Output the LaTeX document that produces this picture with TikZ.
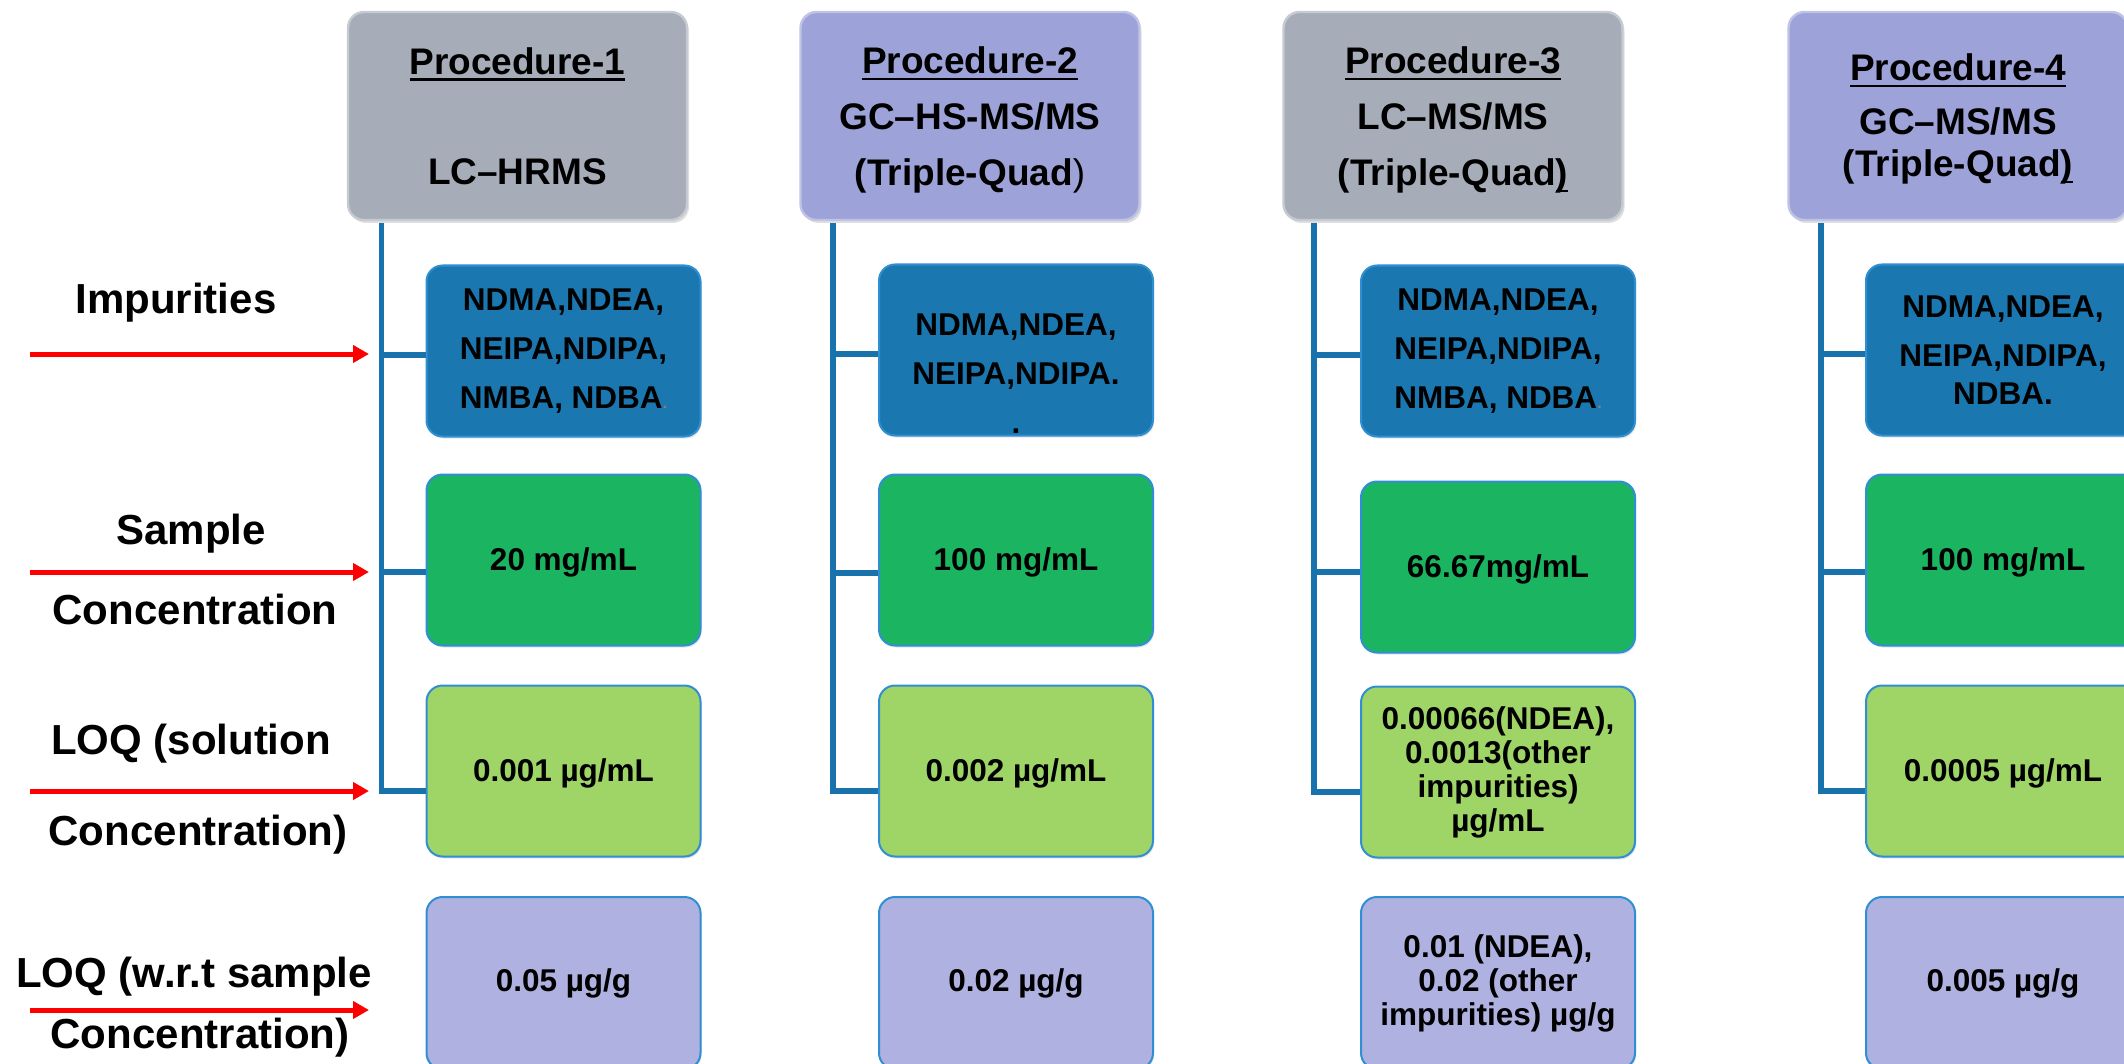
\documentclass[tikz,border=0pt]{standalone}
\usepackage{fontspec}
\setmainfont{Liberation Sans}
\usetikzlibrary{arrows.meta,shadows,calc}
\definecolor{hgray}{HTML}{A7ADB8}
\definecolor{hlav}{HTML}{9DA3D8}
\definecolor{impblue}{HTML}{1B77B0}
\definecolor{samgreen}{HTML}{1BB562}
\definecolor{loqgreen}{HTML}{9FD466}
\definecolor{wrtlav}{HTML}{AFB1E0}
\definecolor{edgeblue}{HTML}{2F8FD2}
\definecolor{connblue}{HTML}{1872AC}
\newcommand{\myul}[1]{\setbox0\hbox{#1}\rlap{\rule[-3.4pt]{\wd0}{1.3pt}}\box0}
\newcommand{\graydot}{{\color{gray}\fontsize{8}{8}\selectfont.}}
\tikzset{
  hdr/.style={rounded corners=8pt, minimum width=169.5pt, minimum height=104pt,
    draw=#1!65!white, line width=1.2pt, fill=#1,
    drop shadow={opacity=0.25,shadow xshift=1pt,shadow yshift=-1.5pt},
    inner sep=0pt},
  htext/.style={font=\fontsize{18.5}{28}\selectfont\bfseries, align=center, inner sep=0pt},
  cbox/.style={rounded corners=8pt, minimum width=137pt, minimum height=85.5pt,
    draw=edgeblue, line width=1pt, fill=#1,
    drop shadow={opacity=0.2,shadow xshift=0.6pt,shadow yshift=-1pt},
    font=\fontsize{15.75}{24.5}\selectfont\bfseries, align=center, inner sep=0pt},
  ctext/.style={font=\fontsize{15.75}{24.5}\selectfont\bfseries, align=center, inner sep=0pt},
  tight/.style={font=\fontsize{15.75}{17}\selectfont\bfseries},
  lbl/.style={font=\fontsize{21}{25}\selectfont\bfseries, inner sep=0pt},
  conn/.style={draw=connblue, line width=2.6pt},
  redarr/.style={draw=red, line width=2.5pt, -{Triangle[length=8pt,width=8.5pt]}}
}
\begin{document}
\begin{tikzpicture}[x=0.5pt,y=-0.5pt]
\useasboundingbox (0,0) rectangle (2124,1064);
\clip (0,0) rectangle (2124,1064);
% headers
\node[hdr=hgray] (h1) at (517.5,116) {};
\node[htext] (t1) at (h1.center) {\myul{Procedure-1}\\[27pt]LC–HRMS};
\node[hdr=hlav] (h2) at (970,116) {};
\node[htext] (t2) at ([yshift=-2pt]h2.center) {\myul{Procedure-2}\\GC–HS-MS/MS\\(Triple-Quad{\mdseries)}};
\node[hdr=hgray] (h3) at (1453,116) {};
\node[htext] (t3) at ([yshift=-2pt]h3.center) {\myul{Procedure-3}\\LC–MS/MS\\(Triple-Quad\myul{)}};
\node[hdr=hlav] (h4) at (1958,116) {};
\node[htext] (t4) at ([yshift=-1.5pt]h4.center) {\myul{Procedure-4}\\[-1pt]GC–MS/MS\\[-7pt](Triple-Quad\myul{)}};
% column 1
\node[cbox=impblue] (c1a) at (563.5,351) {NDMA,NDEA,\\NEIPA,NDIPA,\\NMBA, NDBA\graydot};
\node[cbox=samgreen] (c1b) at (563.5,560) {};
\node[ctext] (t1b) at ([yshift=-1pt]c1b.center) {20 mg/mL};
\node[cbox=loqgreen] (c1c) at (563.5,771) {};
\node[ctext] (t1c) at ([yshift=-1pt]c1c.center) {0.001 µg/mL};
\node[cbox=wrtlav, minimum height=86pt] (c1d) at (563.5,983) {0.05 µg/g};
% column 2
\node[cbox=impblue] (c2a) at (1016,350) {};
\node[ctext] (t2a) at ([yshift=-12pt]c2a.center) {NDMA,NDEA,\\NEIPA,NDIPA.\\.};
\node[cbox=samgreen] (c2b) at (1016,560) {};
\node[ctext] (t2b) at ([yshift=-1pt]c2b.center) {100 mg/mL};
\node[cbox=loqgreen] (c2c) at (1016,771) {};
\node[ctext] (t2c) at ([yshift=-1pt]c2c.center) {0.002 µg/mL};
\node[cbox=wrtlav, minimum height=86pt] (c2d) at (1016,983) {0.02 µg/g};
% column 3
\node[cbox=impblue] (c3a) at (1498,351) {NDMA,NDEA,\\NEIPA,NDIPA,\\NMBA, NDBA\graydot};
\node[cbox=samgreen] (c3b) at (1498,567) {};
\node[ctext] (t3b) at ([yshift=-1pt]c3b.center) {66.67mg/mL};
\node[cbox=loqgreen, tight] (c3c) at (1498,772) {0.00066(NDEA),\\0.0013(other\\impurities)\\µg/mL};
\node[cbox=wrtlav, minimum height=86pt, tight] (c3d) at (1498,983) {0.01 (NDEA),\\0.02 (other\\impurities) µg/g};
% column 4
\node[cbox=impblue] (c4a) at (2003,350) {NDMA,NDEA,\\NEIPA,NDIPA,\\[-5.5pt]NDBA.};
\node[cbox=samgreen] (c4b) at (2003,560) {};
\node[ctext] (t4b) at ([yshift=-1pt]c4b.center) {100 mg/mL};
\node[cbox=loqgreen] (c4c) at (2003,771) {};
\node[ctext] (t4c) at ([yshift=-1pt]c4c.center) {0.0005 µg/mL};
\node[cbox=wrtlav, minimum height=86pt] (c4d) at (2003,983) {0.005 µg/g};
% tree connectors
\path ([xshift=-22pt]c1a.west) coordinate (v1x);
\path ([yshift=-1pt]h1.south) coordinate (h1b);
\draw[conn] (v1x |- h1b) |- ([yshift=-10pt]c1c.west);
\draw[conn] (v1x |- h1b) |- ([yshift=-2pt]c1a.west);
\draw[conn] (v1x |- h1b) |- ([yshift=-6pt]c1b.west);
\path ([xshift=-22.5pt]c2a.west) coordinate (v2x);
\path ([yshift=-1pt]h2.south) coordinate (h2b);
\draw[conn] (v2x |- h2b) |- ([yshift=-10pt]c2c.west);
\draw[conn] (v2x |- h2b) |- ([yshift=-2pt]c2a.west);
\draw[conn] (v2x |- h2b) |- ([yshift=-6.5pt]c2b.west);
\path ([xshift=-23pt]c3a.west) coordinate (v3x);
\path ([yshift=-1pt]h3.south) coordinate (h3b);
\draw[conn] (v3x |- h3b) |- ([yshift=-10pt]c3c.west);
\draw[conn] (v3x |- h3b) |- ([yshift=-2pt]c3a.west);
\draw[conn] (v3x |- h3b) |- ([yshift=-2.5pt]c3b.west);
\path ([xshift=-22pt]c4a.west) coordinate (v4x);
\path ([yshift=-1pt]h4.south) coordinate (h4b);
\draw[conn] (v4x |- h4b) |- ([yshift=-10pt]c4c.west);
\draw[conn] (v4x |- h4b) |- ([yshift=-2pt]c4a.west);
\draw[conn] (v4x |- h4b) |- ([yshift=-6pt]c4b.west);
% left labels
\node[lbl] (l1) at (176,303) {Impurities};
\node[lbl] (l2a) at (191,534) {Sample};
\node[lbl] (l2b) at (195,609) {Concentration};
\node[lbl] (l3a) at (191,744) {LOQ (solution};
\node[lbl] (l3b) at (198,835) {Concentration)};
\node[lbl] (l4a) at (194,977) {LOQ (w.r.t sample};
\node[lbl] (l4b) at (200,1038) {Concentration)};
% red arrows
\coordinate (r1a) at (30,354);  \coordinate (r1b) at (369,354);
\coordinate (r2a) at (30,572);  \coordinate (r2b) at (369,572);
\coordinate (r3a) at (30,791);  \coordinate (r3b) at (369,791);
\coordinate (r4a) at (30,1010); \coordinate (r4b) at (369,1010);
\draw[redarr] (r1a) -- (r1b);
\draw[redarr] (r2a) -- (r2b);
\draw[redarr] (r3a) -- (r3b);
\draw[redarr] (r4a) -- (r4b);
\end{tikzpicture}
\end{document}
